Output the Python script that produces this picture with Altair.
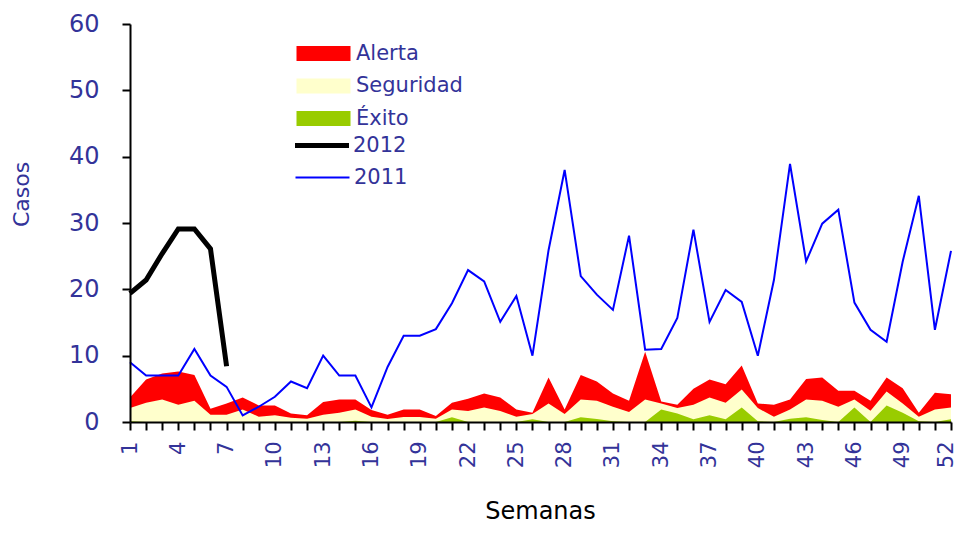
import altair as alt
import pandas as pd

# ---------------- data ----------------
semanas = list(range(1, 53))
alerta = [3.7, 6.4, 7.3, 7.6, 7.1, 2.0, 2.8, 3.7, 2.5, 2.5, 1.3, 1.0, 3.0, 3.4, 3.4, 1.8, 1.1, 1.9, 1.9, 0.9,
          2.9, 3.5, 4.3, 3.7, 1.9, 1.4, 6.7, 1.9, 7.1, 6.1, 4.3, 3.2, 10.6, 3.1, 2.6, 5.0, 6.4, 5.7, 8.5, 2.8,
          2.6, 3.4, 6.5, 6.7, 4.7, 4.7, 3.2, 6.7, 5.1, 1.4, 4.4, 4.2]
seguridad = [2.1, 2.9, 3.4, 2.6, 3.2, 1.1, 1.1, 1.9, 0.8, 1.0, 0.65, 0.5, 1.1, 1.4, 1.9, 0.8, 0.45, 0.75, 0.75, 0.5,
             1.9, 1.65, 2.2, 1.65, 0.8, 1.2, 2.8, 1.2, 3.4, 3.2, 2.3, 1.5, 3.4, 2.8, 2.1, 2.6, 3.7, 2.9, 4.9, 2.1,
             0.8, 1.9, 3.4, 3.2, 2.3, 3.4, 1.7, 4.6, 2.8, 0.8, 1.9, 2.2]
exito = [0.1, 0, 0, 0, 0, 0, 0, 0, 0, 0, 0, 0, 0, 0, 0.2, 0, 0, 0, 0, 0,
         0.7, 0, 0, 0, 0, 0.4, 0, 0, 0.7, 0.45, 0.1, 0, 0, 1.9, 1.3, 0.4, 1.0, 0.4, 2.2, 0.1,
         0, 0.5, 0.7, 0.3, 0, 2.2, 0, 2.5, 1.4, 0.1, 0, 0.4]
casos_2011 = [9, 7, 7, 7, 11, 7, 5.3, 1, 2.3, 3.8, 6.1, 5.1, 10, 7, 7, 2.2, 8.3, 13, 13, 14,
              17.9, 22.9, 21.2, 15.1, 19, 10, 25.9, 38, 22, 19.2, 16.9, 28.1, 10.9, 11, 15.7, 29, 15.1, 19.9, 18.1, 10,
              21.4, 38.9, 24.2, 29.9, 32, 18, 13.9, 12.1, 24.2, 34.1, 13.9, 25.8]
semanas_2012 = [1, 2, 3, 4, 5, 6, 7]
casos_2012 = [19.4, 21.4, 25.4, 29.1, 29.1, 26.1, 8.4]

series_areas = ["Alerta", "Seguridad", "Éxito"]
colores_areas = ["#FF0000", "#FFFFCC", "#99CC00"]
x_ticks = list(range(1, 53))
y_ticks = [0, 10, 20, 30, 40, 50, 60]

TEXT = "#333399"
FONT = "DejaVu Sans"

df_alerta = pd.DataFrame({"semana": semanas, "valor": alerta, "serie": "Alerta"})
df_seg = pd.DataFrame({"semana": semanas, "valor": seguridad, "serie": "Seguridad"})
df_exito = pd.DataFrame({"semana": semanas, "valor": exito, "serie": "Éxito"})
df_2011 = pd.DataFrame({"semana": semanas, "valor": casos_2011, "anio": "2011"})
df_2012 = pd.DataFrame({"semana": semanas_2012, "valor": casos_2012, "anio": "2012"})

# ---------------- axes ----------------
x_axis = alt.Axis(
    values=x_ticks, format="d",
    labelExpr="(datum.value - 1) % 3 == 0 ? datum.label : ''",
    labelAngle=270, labelFontSize=21, labelColor=TEXT, labelPadding=11,
    labelOffset={"condition": {"test": "datum.value == 52", "value": -5}, "value": 0},
    labelOverlap=False, labelFlush=False,
    tickSize=8, tickWidth=2, tickColor="black",
    domainColor="black", domainWidth=2, grid=False, zindex=1,
    titleFontSize=24, titleColor="black", titleFontWeight="normal",
    titleX=410, titleY=96, titleBaseline="alphabetic", titleAlign="center",
)
y_axis = alt.Axis(
    values=y_ticks, labelFontSize=24, labelColor=TEXT, labelPadding=23,
    tickSize=8, tickWidth=2, tickColor="black",
    domainColor="black", domainWidth=2, grid=False, zindex=1,
    titleFontSize=22, titleColor=TEXT, titleFontWeight="normal",
    titleAngle=270, titleX=-109, titleY=170, titleAlign="center", titleBaseline="middle",
)

x_enc = alt.X("semana:Q", title="Semanas", scale=alt.Scale(domain=[1, 52], nice=False, zero=False), axis=x_axis)
y_enc = alt.Y("valor:Q", title="Casos", scale=alt.Scale(domain=[0, 60], nice=False), axis=y_axis)

RECT = "M-3,-0.833H3V0.833H-3Z"
LINE = "M-3,0H3"

fill_scale = alt.Scale(domain=series_areas, range=colores_areas)
fill_legend = alt.Legend(
    title=None, orient="none", legendX=183, legendY=19, padding=0,
    symbolType=RECT, symbolSize=324, symbolStrokeWidth=0, symbolOpacity=1,
    labelOffset=22, rowPadding=10.5, labelFontSize=21, labelColor=TEXT, labelFont=FONT,
)


def area_layer(df):
    return alt.Chart(df).mark_area(opacity=1, interpolate="linear").encode(
        x=x_enc, y=y_enc,
        fill=alt.Fill("serie:N", scale=fill_scale, legend=fill_legend),
    )


leg_2011 = alt.Legend(
    title=None, orient="none", legendX=182, legendY=143, padding=0,
    symbolType=LINE, symbolSize=324, symbolStrokeWidth=2, symbolOpacity=1,
    labelOffset=21, labelFontSize=21, labelColor=TEXT, labelFont=FONT,
)
leg_2012 = alt.Legend(
    title=None, orient="none", legendX=180.5, legendY=110, padding=0,
    symbolType=LINE, symbolSize=324, symbolStrokeWidth=5, symbolOpacity=1,
    labelOffset=19.5, labelFontSize=21, labelColor=TEXT, labelFont=FONT,
)

line_2011 = alt.Chart(df_2011).mark_line(strokeWidth=2).encode(
    x=x_enc, y=y_enc,
    color=alt.Color("anio:N", scale=alt.Scale(domain=["2011"], range=["#0000FF"]), legend=leg_2011),
)
line_2012 = alt.Chart(df_2012).mark_line(strokeWidth=5).encode(
    x=x_enc, y=y_enc,
    stroke=alt.Stroke("anio:N", scale=alt.Scale(domain=["2012"], range=["#000000"]), legend=leg_2012),
)

chart = alt.layer(
    area_layer(df_alerta), area_layer(df_seg), area_layer(df_exito), line_2011, line_2012
).properties(
    width=821, height=398,
    autosize=alt.AutoSizeParams(type="none"),
    padding={"left": 122, "top": 16, "right": 3, "bottom": 103},
).configure_axis(
    labelFont=FONT, titleFont=FONT,
).configure_legend(
    labelFont=FONT,
).configure_view(strokeWidth=0)

chart.save("out.html", embed_options={"renderer": "svg", "actions": False})
